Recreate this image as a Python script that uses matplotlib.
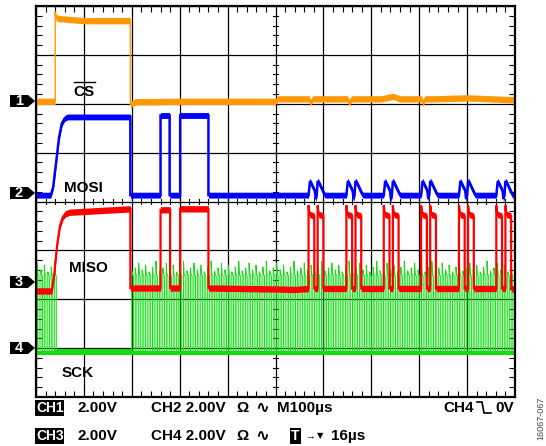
import numpy as np
import matplotlib
matplotlib.use("Agg")
import matplotlib.pyplot as plt
from matplotlib.lines import Line2D
from matplotlib.patches import Polygon
from matplotlib.ticker import MultipleLocator

plt.rcParams["font.family"] = ["Liberation Sans", "DejaVu Sans"]

W, H = 546, 446

# all traces in screen divisions: x 0..10 (M100µs/div), y 0..8
# CH1 - CS (orange)
cs_t = [0.00, 0.40, 0.40, 0.42, 0.50, 1.00, 1.97, 1.97, 2.00, 2.08, 3.00, 5.00, 5.05,
        5.70, 5.73, 5.78, 6.50, 6.53, 6.60, 7.20, 7.46, 7.60, 8.05, 8.08, 8.12, 8.30,
        9.00, 10.0]
cs_v = [6.05, 6.05, 7.88, 7.76, 7.74, 7.70, 7.70, 5.98, 6.00, 6.04, 6.05, 6.05, 6.10,
        6.10, 6.02, 6.10, 6.10, 6.03, 6.10, 6.10, 6.15, 6.10, 6.10, 6.01, 6.10, 6.10,
        6.12, 6.08]

# CH2 - MOSI (blue)
mosi_t = [0.00, 0.31, 0.36, 0.42, 0.48, 0.54, 0.60, 0.66, 1.97, 1.97, 2.60, 2.60,
          2.79, 2.79, 3.01, 3.01, 3.60, 3.60]
mosi_v = [4.13, 4.13, 4.30, 4.80, 5.30, 5.60, 5.70, 5.73, 5.73, 4.13, 4.13, 5.76,
          5.76, 4.13, 4.13, 5.76, 5.76, 4.13]
mosi_bump_dt = [0.00, 0.03, 0.13, 0.15, 0.17, 0.19, 0.22, 0.33, 0.35]
mosi_bump_v = [4.13, 4.42, 4.22, 4.05, 4.13, 4.42, 4.38, 4.15, 4.13]

# CH3 - MISO (red)
miso_t = [0.00, 0.33, 0.38, 0.44, 0.50, 0.56, 0.62, 0.70, 1.97, 1.97, 2.60, 2.60,
          2.80, 2.80, 3.01, 3.01, 3.60, 3.60, 5.00, 5.40]
miso_v = [2.17, 2.17, 2.50, 3.10, 3.50, 3.68, 3.75, 3.78, 3.85, 2.23, 2.23, 3.83,
          3.83, 2.23, 2.23, 3.85, 3.85, 2.23, 2.21, 2.20]
miso_pulse_dt = [0.00, 0.00, 0.02, 0.12, 0.12, 0.19, 0.19, 0.21, 0.31, 0.31]
miso_pulse_v = [2.22, 3.92, 3.74, 3.70, 2.22, 2.22, 3.92, 3.74, 3.70, 2.22]

# byte positions (start of each MOSI/MISO burst)
burst_starts = [5.69, 6.48, 7.26, 8.04, 8.83, 9.61]

# CH4 - SCK (green)
sck_bursts = [(0.03, 0.40), (2.00, 9.99)]
sck_period = 0.072
sck_low, sck_high = 0.92, 2.52
sck_peaks = [2.74, 2.60, 2.70, 2.56, 2.66, 2.78, 2.58, 2.64]

ORANGE, BLUE, RED, GREEN = "#ff9900", "#0000ff", "#ff0000", "#11dd11"

# screen box in pixels
X0, X1, Y0, Y1 = 36, 515, 6, 397


def fx(x):
    return x / W


def fy(y):
    return 1 - y / H


def with_bursts(t, v, dt, dv):
    t, v = list(t), list(v)
    base = v[-1]
    for s in burst_starts:
        t += [s + d for d in dt]
        v += list(dv)
    t.append(10.0)
    v.append(base)
    return np.array(t), np.array(v)


def draw_trace(ax, t, v, color, h, lw, z):
    t, v = np.asarray(t), np.asarray(v)
    ax.fill_between(t, v - h, v + h, color=color, lw=0, zorder=z)
    ax.plot(t, v, color=color, lw=lw, zorder=z, solid_joinstyle="miter")


fig = plt.figure(figsize=(W / 100, H / 100), dpi=100)
ax = fig.add_axes([fx(X0), fy(Y1), (X1 - X0) / W, (Y1 - Y0) / H])
ax.set_xlim(0, 10)
ax.set_ylim(0, 8)
ax.set_xticks(range(11))
ax.set_yticks(range(9))
ax.xaxis.set_minor_locator(MultipleLocator(0.2))
ax.yaxis.set_minor_locator(MultipleLocator(0.2))
ax.grid(True, color="black", lw=0.9, zorder=1)
ax.tick_params(which="major", length=0, labelbottom=False, labelleft=False)
ax.tick_params(which="minor", direction="in", length=4, width=0.8,
               top=True, right=True, color="black")
for sp in ax.spines.values():
    sp.set_linewidth(1.6)
    sp.set_zorder(6)

# ticks on the centre cross
for yy in np.arange(0.2, 8, 0.2):
    ax.plot([4.95, 5.05], [yy, yy], color="black", lw=0.8, zorder=1)
for xx in np.arange(0.2, 10, 0.2):
    ax.plot([xx, xx], [3.95, 4.05], color="black", lw=0.8, zorder=1)

# SCK clock
g_t, g_v = [0.0], [sck_low]
k = 0
for start, stop in sck_bursts:
    for t0 in np.arange(start, stop, sck_period):
        p = sck_peaks[k % len(sck_peaks)]
        k += 1
        g_t += [t0, t0, t0 + 0.012, t0 + 0.034, t0 + 0.034]
        g_v += [sck_low, p, sck_high, sck_high - 0.05, sck_low]
g_t.append(10.0)
g_v.append(sck_low)
ax.plot(g_t, g_v, color=GREEN, lw=0.7, zorder=2)
ax.fill_between([0.40, 2.0], sck_low - 0.06, sck_low + 0.06, color=GREEN, lw=0, zorder=2)
ax.fill_between([0.0, 10.0], sck_low - 0.07, sck_low + 0.02, color=GREEN, lw=0, zorder=2)

# MISO, MOSI, CS
t, v = with_bursts(miso_t, miso_v, miso_pulse_dt, miso_pulse_v)
draw_trace(ax, t, v, RED, 0.065, 1.6, 3)
t, v = with_bursts(mosi_t, mosi_v, mosi_bump_dt, mosi_bump_v)
draw_trace(ax, t, v, BLUE, 0.06, 1.8, 4)
draw_trace(ax, cs_t, cs_v, ORANGE, 0.065, 1.0, 5)

# trace labels
lab = dict(fontsize=11, fontweight="bold", ha="center", va="center", zorder=7)
ax.text(1.0, 6.24, "CS", **lab)
ax.plot([0.79, 1.23], [6.44, 6.44], color="black", lw=1.0, zorder=7)
ax.text(1.0, 4.27, "MOSI", **lab)
ax.text(1.09, 2.64, "MISO", **lab)
ax.text(0.88, 0.49, "SCK", **lab)

# channel markers
for cy, num in [(101, "1"), (193, "2"), (282, "3"), (348, "4")]:
    pts = [(10, cy - 6), (28, cy - 6), (35, cy), (28, cy + 6), (10, cy + 6)]
    fig.add_artist(Polygon([(fx(x), fy(y)) for x, y in pts], closed=True,
                           transform=fig.transFigure, facecolor="black", edgecolor="none"))
    fig.text(fx(19), fy(cy), num, color="white", fontsize=10.5, fontweight="bold",
             ha="center", va="center")

# status lines
st = dict(fontsize=11, fontweight="bold", va="center")
box = dict(facecolor="black", edgecolor="none", pad=0.4)
for row_y, ch_a, ch_b in [(408, "CH1", "CH2 2.00V"), (436, "CH3", "CH4 2.00V")]:
    fig.text(fx(36), fy(row_y), ch_a, color="white", bbox=box, fontsize=10,
             fontweight="bold", va="center")
    fig.text(fx(78), fy(row_y), "2.00V", **st)
    fig.text(fx(151), fy(row_y), ch_b, **st)
    fig.text(fx(236), fy(row_y), "Ω", **st)
    fig.text(fx(255), fy(row_y), "∿", fontsize=12, fontweight="bold", va="center",
             family=["DejaVu Sans"])
fig.text(fx(277), fy(408), "M100µs", **st)
fig.text(fx(443), fy(408), "CH4", **st)
fig.add_artist(Line2D([fx(477), fx(482), fx(484), fx(491)],
                      [fy(402), fy(402), fy(413), fy(413)],
                      transform=fig.transFigure, color="black", lw=1.2))
fig.text(fx(495), fy(408), "0V", **st)
fig.text(fx(291), fy(436), "T", color="white", bbox=dict(facecolor="black",
         edgecolor="none", pad=1.0), fontsize=10, fontweight="bold", va="center")
fig.text(fx(305), fy(436), "→", fontsize=7, fontweight="bold", va="center")
fig.text(fx(317), fy(436), "▼", fontsize=6, va="center", family=["DejaVu Sans"])
fig.text(fx(331), fy(436), "16µs", **st)

fig.text(fx(541), fy(418), "16067-067", rotation=90, fontsize=6.5, color="#444444",
         ha="center", va="center")

fig.savefig("out.png", dpi=100)
